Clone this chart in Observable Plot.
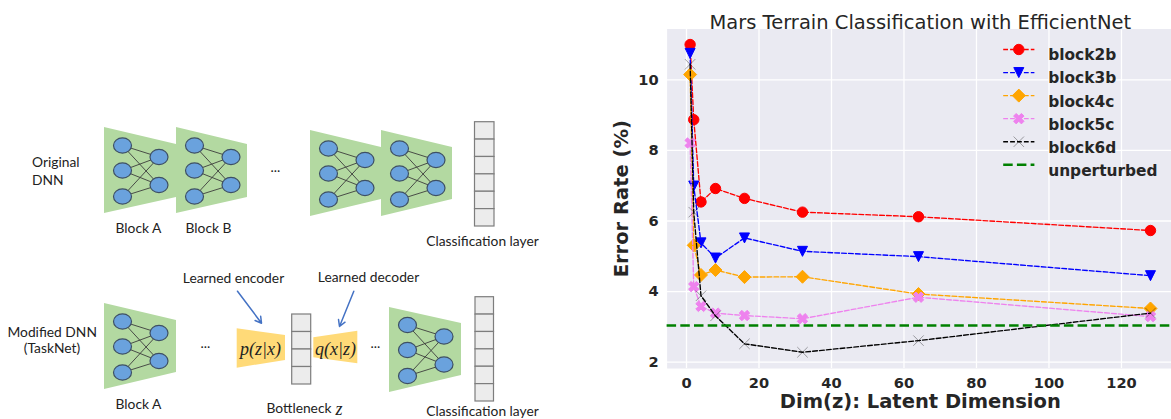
<!DOCTYPE html>
<html>
<head>
<meta charset="utf-8">
<script src="https://cdn.jsdelivr.net/npm/d3@7"></script>
<script src="https://cdn.jsdelivr.net/npm/@observablehq/plot@0.6"></script>
<style>
  html, body { margin: 0; padding: 0; background: #fff; }
  #wrap { position: relative; width: 1171px; height: 419px; overflow: hidden; background: #fff; }
  #wrap svg { position: absolute; top: 0; }
</style>
</head>
<body>
<div id="wrap"></div>
<script>
// ---------------- chart data ----------------
const dims = [1, 2, 4, 8, 16, 32, 64, 128];
const seriesNames = ["block2b", "block3b", "block4c", "block5c", "block6d"];
const block2b = [11.0, 8.87, 6.54, 6.92, 6.64, 6.25, 6.12, 5.73];
const block3b = [10.75, 6.99, 5.38, 4.95, 5.52, 5.14, 4.99, 4.45];
const block4c = [10.15, 5.31, 4.47, 4.61, 4.41, 4.42, 3.93, 3.52];
const block5c = [8.21, 4.14, 3.58, 3.39, 3.32, 3.23, 3.84, 3.29];
const block6d = [10.44, 6.25, 3.88, 3.31, 2.52, 2.28, 2.61, 3.39];
const unperturbed = 3.04;
const seriesColors = ["red", "blue", "orange", "violet", "black"];
const xTicks = [0, 20, 40, 60, 80, 100, 120];
const yTicks = [2, 4, 6, 8, 10];
const chartTitle = "Mars Terrain Classification with EfficientNet";
const xLabel = "Dim(z): Latent Dimension";
const yLabel = "Error Rate (%)";
const legendNames = ["block2b", "block3b", "block4c", "block5c", "block6d", "unperturbed"];

// ---------------- diagram data ----------------
const greenBlocks = [
  {id: "A1", x0: 104, x1: 176, top: [127, 144], bot: [213, 197]},
  {id: "B1", x0: 176, x1: 247, top: [127, 144], bot: [213, 197]},
  {id: "C1", x0: 310, x1: 381, top: [130, 147], bot: [216, 199]},
  {id: "D1", x0: 381, x1: 452, top: [130, 147], bot: [216, 199]},
  {id: "A2", x0: 104, x1: 176, top: [303, 320], bot: [389, 372]},
  {id: "E2", x0: 389, x1: 461, top: [307, 323], bot: [392, 375]}
];
const yellowBlocks = [
  {id: "enc", x0: 236.7, x1: 285, top: [328.3, 335], bot: [367.7, 360]},
  {id: "dec", x0: 313.3, x1: 357.3, top: [337.3, 330.7], bot: [357.3, 363.3]}
];
const columns = [
  {x0: 474.5, x1: 494, y0: 121.7, y1: 226, n: 6},
  {x0: 291.7, x1: 310.7, y0: 314, y1: 384, n: 4},
  {x0: 475, x1: 493.5, y0: 296.7, y1: 401, n: 6}
];
const arrows = [
  {x1: 237, y1: 290.7, x2: 261, y2: 322.7},
  {x1: 353.3, y1: 290.7, x2: 339, y2: 326}
];
const labels = [
  {t: "Original", x: 31.5, y: 162, a: "start"},
  {t: "DNN", x: 31.5, y: 180, a: "start"},
  {t: "Block A", x: 138, y: 228, a: "middle"},
  {t: "Block B", x: 208, y: 228, a: "middle"},
  {t: "...", x: 275, y: 167, a: "middle"},
  {t: "Classification layer", x: 482, y: 241.5, a: "middle"},
  {t: "Modified DNN", x: 51.7, y: 331.7, a: "middle"},
  {t: "(TaskNet)", x: 51.5, y: 348.3, a: "middle"},
  {t: "Block A", x: 138, y: 404, a: "middle"},
  {t: "...", x: 205, y: 343, a: "middle"},
  {t: "Learned encoder", x: 233, y: 278, a: "middle"},
  {t: "Learned decoder", x: 368, y: 277.5, a: "middle"},
  {t: "...", x: 375, y: 343, a: "middle"},
  {t: "Bottleneck", x: 331, y: 408.5, a: "end"},
  {t: "Classification layer", x: 482, y: 411.5, a: "middle"}
];
const mathLabels = [
  {t: "p(z|x)", x: 260, y: 348.3},
  {t: "q(x|z)", x: 335, y: 348.3},
  {t: "z", x: 338.5, y: 408.5}
];

// ---------------- diagram build ----------------
const trapPts = b => [
  {id: b.id, x: b.x0, t: b.top[0], b: b.bot[0]},
  {id: b.id, x: b.x1, t: b.top[1], b: b.bot[1]}
];
const leftOff = [-25, 0, 26], rightOff = [-13.5, 14.5];
const nodes = [], edges = [];
for (const b of greenBlocks) {
  const c = (b.top[0] + b.bot[0]) / 2;
  const L = leftOff.map(o => ({x: b.x0 + 18, y: c + o}));
  const R = rightOff.map(o => ({x: b.x0 + 54.5, y: c + o}));
  nodes.push(...L, ...R);
  for (const l of L) for (const r of R) edges.push({x1: l.x, y1: l.y, x2: r.x, y2: r.y});
}
const cells = [];
for (const col of columns) {
  const h = (col.y1 - col.y0) / col.n;
  for (let i = 0; i < col.n; i++) cells.push({x1: col.x0, x2: col.x1, y1: col.y0 + i * h, y2: col.y0 + (i + 1) * h});
}
const ellipse = {
  draw(ctx) {
    const rx = 9, ry = 7.6, k = 0.5523;
    ctx.moveTo(rx, 0);
    ctx.bezierCurveTo(rx, ry * k, rx * k, ry, 0, ry);
    ctx.bezierCurveTo(-rx * k, ry, -rx, ry * k, -rx, 0);
    ctx.bezierCurveTo(-rx, -ry * k, -rx * k, -ry, 0, -ry);
    ctx.bezierCurveTo(rx * k, -ry, rx, -ry * k, rx, 0);
    ctx.closePath();
  }
};
const labelText = anchor => Plot.text(labels.filter(d => d.a === anchor),
  {x: "x", y: "y", text: "t", textAnchor: anchor, fontSize: 13.8, fill: "#222"});

const diagram = Plot.plot({
  width: 600, height: 419, margin: 0,
  x: {domain: [0, 600], range: [0, 600], axis: null},
  y: {domain: [0, 419], range: [0, 419], axis: null},
  style: {fontFamily: "Lato, 'Open Sans', sans-serif", background: "transparent"},
  marks: [
    Plot.areaY(greenBlocks.flatMap(trapPts), {x: "x", y1: "t", y2: "b", z: "id", fill: "#b3d9a1", curve: "linear"}),
    Plot.areaY(yellowBlocks.flatMap(trapPts), {x: "x", y1: "t", y2: "b", z: "id", fill: "#ffda78", curve: "linear"}),
    Plot.link(edges, {x1: "x1", y1: "y1", x2: "x2", y2: "y2", stroke: "#3c3c3c", strokeWidth: 0.9}),
    Plot.dot(nodes, {x: "x", y: "y", symbol: ellipse, r: 8, fill: "#6aa2dd", stroke: "#3e5064", strokeWidth: 1.2}),
    Plot.rect(cells, {x1: "x1", x2: "x2", y1: "y1", y2: "y2", fill: "#ececec", stroke: "#7d7d7d", strokeWidth: 1.2}),
    Plot.arrow(arrows, {x1: "x1", y1: "y1", x2: "x2", y2: "y2", stroke: "#4472c4", strokeWidth: 1.5, headLength: 7}),
    labelText("start"),
    labelText("middle"),
    labelText("end"),
    Plot.text(mathLabels, {x: "x", y: "y", text: "t", fontSize: 18, fontStyle: "italic", fontFamily: "'Liberation Serif', 'DejaVu Serif', serif", fill: "#222"})
  ]
});
diagram.style.left = "0px";

// ---------------- chart build ----------------
const seriesVals = [block2b, block3b, block4c, block5c, block6d];
const rows = seriesVals.map(vals => dims.map((d, i) => ({dim: d, err: vals[i]})));

const triDown = {draw(ctx, size) { const r = Math.sqrt(size / Math.PI); ctx.moveTo(0, r); ctx.lineTo(-r, -r); ctx.lineTo(r, -r); ctx.closePath(); }};
const diamondSym = {draw(ctx, size) { const r = Math.sqrt(size / Math.PI) * 1.25; ctx.moveTo(0, -r); ctx.lineTo(r, 0); ctx.lineTo(0, r); ctx.lineTo(-r, 0); ctx.closePath(); }};
const xFilled = {draw(ctx, size) {
  const s = Math.sqrt(size / Math.PI) / 2;
  const p = [[-1, -2], [0, -1], [1, -2], [2, -1], [1, 0], [2, 1], [1, 2], [0, 1], [-1, 2], [-2, 1], [-1, 0], [-2, -1]];
  p.forEach(([a, b], i) => i ? ctx.lineTo(a * s, b * s) : ctx.moveTo(a * s, b * s));
  ctx.closePath();
}};
const xThin = {draw(ctx, size) { const r = Math.sqrt(size / Math.PI); ctx.moveTo(-r, -r); ctx.lineTo(r, r); ctx.moveTo(-r, r); ctx.lineTo(r, -r); }};
const hline = {draw(ctx) { ctx.moveTo(-15.6, 0); ctx.lineTo(15.6, 0); }};

const markerStyles = [
  {symbol: "circle", r: 5.2, fill: "red", stroke: "red", strokeWidth: 1},
  {symbol: triDown, r: 5, fill: "blue", stroke: "blue", strokeWidth: 1},
  {symbol: diamondSym, r: 5.2, fill: "orange", stroke: "orange", strokeWidth: 1},
  {symbol: xFilled, r: 5.2, fill: "violet", stroke: "violet", strokeWidth: 1},
  {symbol: xThin, r: 5.2, fill: "none", stroke: "black", strokeOpacity: 0.35, strokeWidth: 1}
];
const dash = "4.8,2.1";

const marks = [
  Plot.frame({fill: "#EAEAF2", stroke: "none"}),
  Plot.ruleX(xTicks, {x: d => d, stroke: "white", strokeWidth: 1.3}),
  Plot.ruleY(yTicks, {y: d => d, stroke: "white", strokeWidth: 1.3}),
  Plot.text(xTicks, {x: d => d, frameAnchor: "bottom", dy: 19, text: d => String(d), fontSize: 14.6, fontWeight: "bold", fill: "#262626"}),
  Plot.text(yTicks, {y: d => d, frameAnchor: "left", dx: -8.5, textAnchor: "end", text: d => String(d), fontSize: 14.6, fontWeight: "bold", fill: "#262626"})
];
rows.forEach((data, i) => {
  marks.push(Plot.line(data, {x: "dim", y: "err", stroke: seriesColors[i], strokeWidth: 1.35, strokeDasharray: dash}));
  marks.push(Plot.dot(data, {x: "dim", y: "err", ...markerStyles[i]}));
});
marks.push(Plot.ruleY([unperturbed], {y: d => d, stroke: "green", strokeWidth: 2.6, strokeDasharray: "9.5,4.2"}));

// legend
legendNames.forEach((name, i) => {
  const dy = 20.5 + 23.06 * i;
  const color = i < 5 ? seriesColors[i] : "green";
  marks.push(Plot.dot([name], {frameAnchor: "top-left", dx: 351.7, dy, symbol: hline, fill: "none", stroke: color,
    strokeWidth: i < 5 ? 1.35 : 2.6, strokeDasharray: i < 5 ? dash : "9.5,4.2"}));
  if (i < 5) marks.push(Plot.dot([name], {frameAnchor: "top-left", dx: 351.7, dy, ...markerStyles[i]}));
  marks.push(Plot.text([name], {frameAnchor: "top-left", dx: 381.1, dy, text: d => d, textAnchor: "start", fontSize: 15.4, fontWeight: "bold", fill: "#262626"}));
});

// titles
marks.push(Plot.text([chartTitle], {frameAnchor: "top", dy: -13.5, text: d => d, fontSize: 19.5, fill: "#262626"}));
marks.push(Plot.text([xLabel], {frameAnchor: "bottom", dy: 39.7, text: d => d, fontSize: 19.5, fontWeight: "bold", fill: "#262626"}));
marks.push(Plot.text([yLabel], {frameAnchor: "left", dx: -45, rotate: -90, textAnchor: "middle", text: d => d, fontSize: 19.5, fontWeight: "bold", fill: "#262626"}));

const chart = Plot.plot({
  width: 573, height: 419,
  marginLeft: 66.6, marginRight: 0, marginTop: 28.5, marginBottom: 51,
  x: {domain: [-5.35, 134.35], axis: null},
  y: {domain: [1.82, 11.44], axis: null},
  style: {fontFamily: "'DejaVu Sans', sans-serif", background: "transparent", overflow: "visible"},
  marks
});
chart.style.left = "600px";

const wrap = document.getElementById("wrap");
wrap.appendChild(diagram);
wrap.appendChild(chart);
</script>
</body>
</html>
